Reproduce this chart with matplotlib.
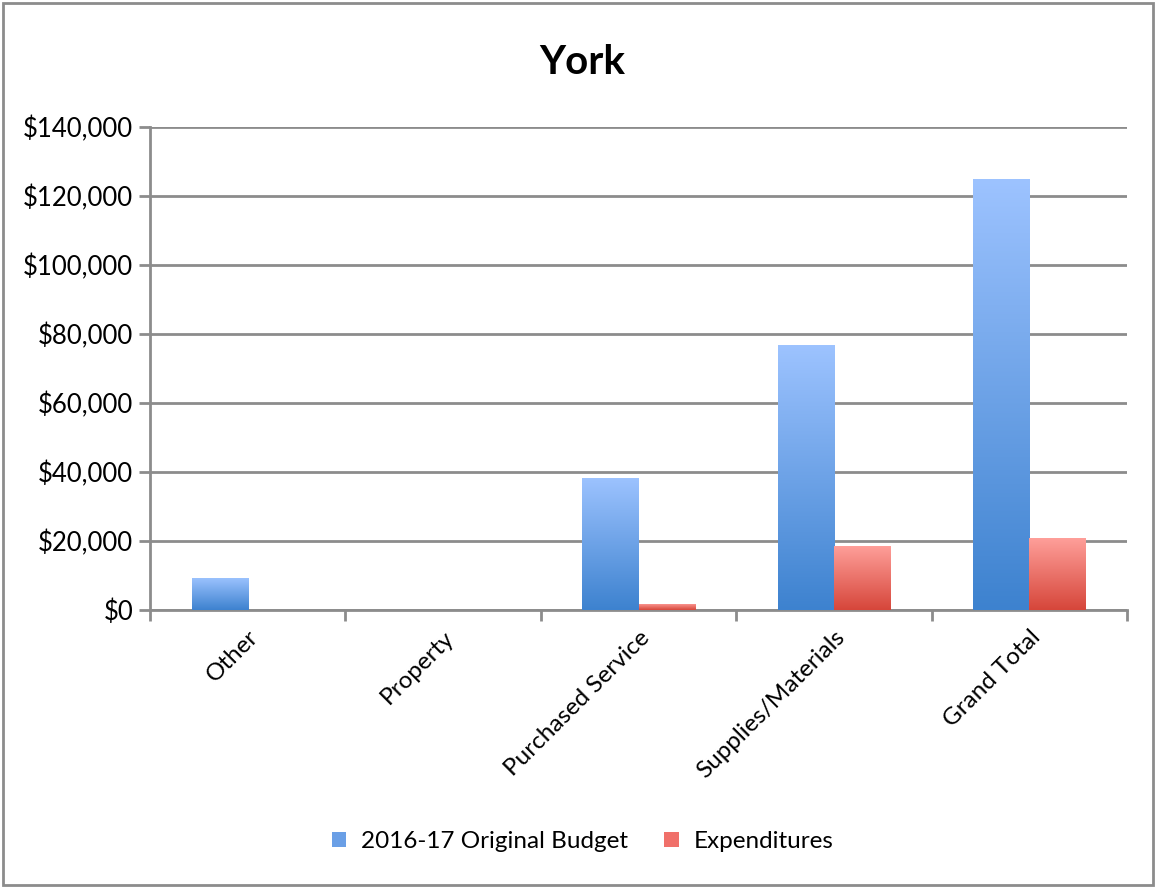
import numpy as np
import matplotlib.pyplot as plt
from matplotlib.colors import LinearSegmentedColormap
from matplotlib.patches import Rectangle
from matplotlib.ticker import FuncFormatter, FixedLocator

categories = ['Other', 'Property', 'Purchased Service', 'Supplies/Materials', 'Grand Total']
budget = [9400, 0, 38300, 76800, 124800]
expenditures = [0, 0, 1800, 18600, 20900]
series_names = ['2016-17 Original Budget', 'Expenditures']

plt.rcParams['font.family'] = ['Lato', 'DejaVu Sans']

fig = plt.figure(figsize=(11.56, 8.88), dpi=100)
ax = fig.add_axes([0.1298, 0.3131, 0.8452, 0.5439])

blue_cmap = LinearSegmentedColormap.from_list('b', ['#3d82cf', '#9dc3ff'])
red_cmap = LinearSegmentedColormap.from_list('r', ['#d6463a', '#ffa09b'])
grad = np.linspace(0, 1, 256).reshape(-1, 1)

x = np.arange(len(categories))
w = 0.287
bars_b = ax.bar(x - w / 2, budget, w, color='none', edgecolor='none', zorder=3)
bars_r = ax.bar(x + w / 2, expenditures, w, color='none', edgecolor='none', zorder=3)

# gradient fill clipped to each bar
for bars, cmap in [(bars_b, blue_cmap), (bars_r, red_cmap)]:
    for b in bars:
        h = b.get_height()
        if h <= 0:
            continue
        x0 = b.get_x()
        im = ax.imshow(grad, cmap=cmap, origin='lower', aspect='auto',
                       extent=[x0, x0 + b.get_width(), 0, h], zorder=3)
        im.set_clip_path(b)

ax.set_xlim(-0.5, len(categories) - 0.5)
ax.set_ylim(0, 140000)
ax.set_yticks(np.arange(0, 140001, 20000))
ax.yaxis.set_major_formatter(FuncFormatter(lambda v, p: '${:,.0f}'.format(v)))
ax.grid(axis='y', color='#8c8c8c', linewidth=2, zorder=0)
ax.set_axisbelow(True)

ax.set_xticks(x)
ax.set_xticklabels(categories, rotation=45, ha='right', rotation_mode='anchor', fontsize=17.5)
ax.xaxis.set_minor_locator(FixedLocator(np.arange(-0.5, len(categories), 1)))
ax.tick_params(axis='x', which='major', length=0, pad=12)
ax.tick_params(axis='x', which='minor', length=8, width=2, color='#8c8c8c')
ax.tick_params(axis='y', length=8, width=2, color='#8c8c8c', labelsize=18.5, pad=4)

for s in ['top', 'right']:
    ax.spines[s].set_visible(False)
for s in ['left', 'bottom']:
    ax.spines[s].set_color('#8c8c8c')
    ax.spines[s].set_linewidth(2)

fig.text(0.504, 0.93, 'York', fontsize=29, fontweight='bold', ha='center', va='center')

handles = [Rectangle((0, 0), 1, 1, facecolor='#6a9fe6'), Rectangle((0, 0), 1, 1, facecolor='#f0706a')]
fig.legend(handles, series_names, loc='center', bbox_to_anchor=(0.504, 0.052), ncol=2,
           frameon=False, fontsize=17.5, handlelength=0.6, handleheight=0.6,
           handletextpad=0.6, columnspacing=1.5)

fig.add_artist(Rectangle((0.003, 0.003), 0.994, 0.994, transform=fig.transFigure,
                         fill=False, edgecolor='#8c8c8c', linewidth=2))

fig.savefig('out.png', dpi=100)
